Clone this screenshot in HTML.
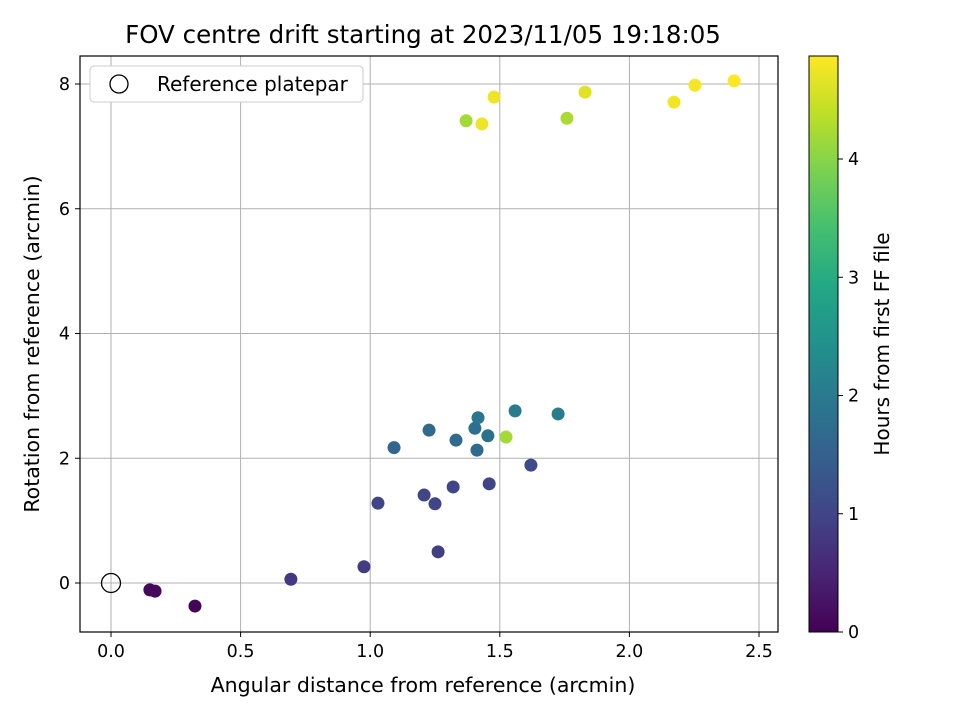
<!DOCTYPE html>
<html><head><meta charset="utf-8"><style>
body{margin:0;background:#fff;font-family:"Liberation Sans","DejaVu Sans",sans-serif}
svg text{font-family:"DejaVu Sans","Liberation Sans",sans-serif;fill:#000}
</style></head><body>
<svg id="chart" width="960" height="720">
<defs><linearGradient id="vir" x1="0" y1="1" x2="0" y2="0">
<stop offset="0" stop-color="#440154"/><stop offset="0.1" stop-color="#482475"/><stop offset="0.2" stop-color="#414487"/><stop offset="0.3" stop-color="#355f8d"/><stop offset="0.4" stop-color="#2a788e"/><stop offset="0.5" stop-color="#21918c"/><stop offset="0.6" stop-color="#22a884"/><stop offset="0.7" stop-color="#44bf70"/><stop offset="0.8" stop-color="#7ad151"/><stop offset="0.9" stop-color="#bddf26"/><stop offset="1" stop-color="#fde725"/></linearGradient></defs>
<text x="423" y="43" font-size="24.5" text-anchor="middle">FOV centre drift starting at 2023/11/05 19:18:05</text>
<g id="grid"></g><g id="axes"></g><g id="pts"></g>
<rect x="80" y="56" width="698" height="576" fill="none" stroke="#000" stroke-width="1.2"/>
<text x="423" y="692" font-size="20.5" text-anchor="middle">Angular distance from reference (arcmin)</text>
<text transform="translate(39,344) rotate(-90)" font-size="20.5" text-anchor="middle">Rotation from reference (arcmin)</text>
<g>
<rect x="90" y="66" width="273" height="36" rx="4" fill="#fff" stroke="#ccc"/>
<circle cx="119" cy="84" r="9" fill="none" stroke="#000" stroke-width="1.3"/>
<text x="157" y="91" font-size="20">Reference platepar</text></g>
<rect x="809" y="56" width="29" height="576" fill="url(#vir)" stroke="#000"/>
<g id="cbticks"></g>
<text transform="translate(889,344) rotate(-90)" font-size="20" text-anchor="middle">Hours from first FF file</text>
</svg>
<script>
const xs=[0.150,0.170,0.324,0.694,0.976,1.030,1.092,1.208,1.250,1.262,1.320,1.459,1.620,1.227,1.331,1.404,1.416,1.412,1.454,1.559,1.725,1.524,1.370,1.431,1.478,1.759,1.829,2.172,2.253,2.404];
const ys=[-0.11,-0.13,-0.37,0.06,0.26,1.28,2.17,1.41,1.27,0.50,1.54,1.59,1.89,2.45,2.29,2.48,2.65,2.13,2.36,2.76,2.71,2.34,7.41,7.36,7.79,7.45,7.87,7.71,7.98,8.05];
const hrs=[0.1,0.1,0.05,0.8,0.85,1.0,1.6,1.0,1.0,0.9,1.0,1.0,1.1,1.7,1.7,1.8,1.9,1.7,1.8,2.0,2.0,4.2,4.2,4.75,4.75,4.25,4.65,4.78,4.82,4.87];
const xTicks=[0,0.5,1.0,1.5,2.0,2.5];
const yTicks=[0,2,4,6,8];
const cTicks=[0,1,2,3,4];
const NS="http://www.w3.org/2000/svg";
const X=v=>111+v*259.2, Y=v=>583-v*62.375, C=v=>632-v*118.25, HMAX=4.87;
const stops=[[68,1,84],[72,36,117],[65,68,135],[53,95,141],[42,120,142],[33,145,140],[34,168,132],[68,191,112],[122,209,81],[189,223,38],[253,231,37]];
function vir(t){t=Math.max(0,Math.min(1,t))*10;const i=Math.min(9,Math.floor(t)),f=t-i,a=stops[i],b=stops[i+1];return`rgb(${a.map((c,k)=>Math.round(c+(b[k]-c)*f)).join(',')})`;}
function mk(tag,at,p){const e=document.createElementNS(NS,tag);for(const k in at)e.setAttribute(k,at[k]);p.appendChild(e);return e;}
const grid=document.getElementById('grid'),axes=document.getElementById('axes'),pts=document.getElementById('pts'),cb=document.getElementById('cbticks');
xTicks.forEach(v=>{const x=X(v);
const l=mk('line',{x1:x,x2:x,y1:56,y2:632,stroke:'#b0b0b0','stroke-width':1},grid);


mk('line',{x1:x,x2:x,y1:632,y2:637,stroke:'#000'},axes);
const t=mk('text',{x:x,y:657,'font-size':17.5,'text-anchor':'middle'},axes);t.textContent=v.toFixed(1);

});
yTicks.forEach(v=>{const y=Y(v);
const l=mk('line',{x1:80,x2:778,y1:y,y2:y,stroke:'#b0b0b0','stroke-width':1},grid);


mk('line',{x1:75,x2:80,y1:y,y2:y,stroke:'#000'},axes);
const t=mk('text',{x:70,y:y+6,'font-size':17.5,'text-anchor':'end'},axes);t.textContent=v;

});
cTicks.forEach(v=>{const y=C(v);
mk('line',{x1:838,x2:843,y1:y,y2:y,stroke:'#000'},cb);
const t=mk('text',{x:848,y:y+6,'font-size':17.5},cb);t.textContent=v;

});
xs.forEach((v,i)=>{const c=mk('circle',{cx:X(v),cy:Y(ys[i]),r:6.5,fill:vir(hrs[i]/HMAX)},pts);

});
const ref=mk('circle',{cx:X(0),cy:Y(0),r:9.5,fill:'none',stroke:'#000','stroke-width':1.3},pts);


</script>
</body></html>
